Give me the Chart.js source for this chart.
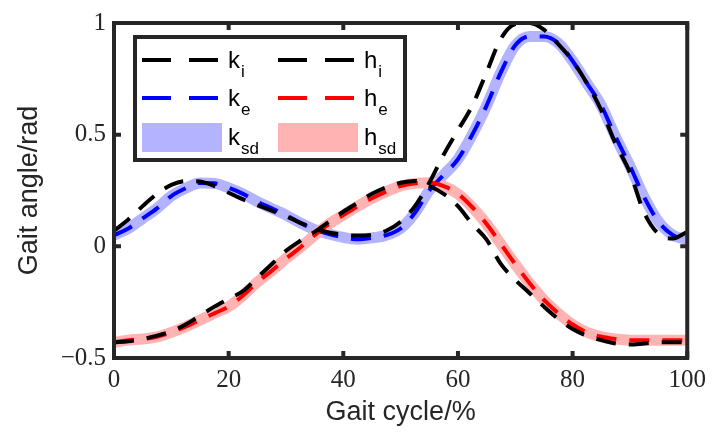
<!DOCTYPE html>
<html>
<head>
<meta charset="utf-8">
<script src="https://cdn.jsdelivr.net/npm/chart.js@4"></script>
<style>
  html, body { margin: 0; padding: 0; background: #fff; }
  #wrap { width: 713px; height: 432px; }
</style>
</head>
<body>
<div id="wrap"><canvas id="gaitChart" width="713" height="432"></canvas></div>
<script>
// gait cycle in %, every 2.5
const gaitCycle = [0,2.5,5,7.5,10,12.5,15,17.5,20,22.5,25,27.5,30,32.5,35,37.5,40,42.5,45,47.5,50,
  52.5,55,57.5,60,62.5,65,67.5,70,72.5,75,77.5,80,82.5,85,87.5,90,92.5,95,97.5,100];

// knee ideal (black) / knee experiment (blue)
const kneeIdeal = [0.07,0.12,0.18,0.235,0.275,0.292,0.29,0.27,0.24,0.21,0.185,0.16,0.135,0.105,0.08,0.062,0.052,0.048,0.052,0.07,0.11,
  0.18,0.285,0.41,0.52,0.63,0.78,0.93,0.995,1.0,0.97,0.905,0.83,0.73,0.61,0.46,0.33,0.15,0.055,0.035,0.065];
const kneeExp = [0.05,0.08,0.125,0.17,0.225,0.26,0.284,0.282,0.262,0.235,0.2,0.17,0.14,0.105,0.075,0.055,0.04,0.032,0.038,0.05,0.08,
  0.15,0.25,0.32,0.39,0.5,0.63,0.78,0.9,0.94,0.94,0.91,0.83,0.73,0.63,0.49,0.36,0.22,0.11,0.05,0.03];

// hip ideal (black) / hip experiment (red)
const hipIdeal = [-0.43,-0.425,-0.415,-0.4,-0.38,-0.35,-0.31,-0.27,-0.235,-0.2,-0.14,-0.08,-0.02,0.025,0.065,0.11,0.155,0.195,0.235,0.265,0.285,
  0.293,0.27,0.235,0.18,0.1,0.03,-0.08,-0.15,-0.21,-0.27,-0.325,-0.37,-0.4,-0.42,-0.435,-0.44,-0.435,-0.43,-0.43,-0.43];
const hipExp = [-0.43,-0.42,-0.415,-0.405,-0.385,-0.36,-0.33,-0.3,-0.27,-0.22,-0.16,-0.11,-0.055,-0.005,0.05,0.1,0.14,0.18,0.215,0.245,0.27,
  0.282,0.285,0.27,0.235,0.175,0.1,0.01,-0.08,-0.165,-0.24,-0.3,-0.35,-0.385,-0.405,-0.415,-0.42,-0.42,-0.42,-0.42,-0.42];

const xTicks = [0, 20, 40, 60, 80, 100];
const yTicks = [-0.5, 0, 0.5, 1];
const legendLabels = [['k', 'i'], ['h', 'i'], ['k', 'e'], ['h', 'e'], ['k', 'sd'], ['h', 'sd']];

const axisColor = '#262626';
const sansFont = "'Liberation Sans', Arial, sans-serif";
const serifFont = "'Liberation Serif', 'Times New Roman', serif";

function pts(vals) {
  return gaitCycle.map((x, i) => ({ x: x, y: vals[i] }));
}

function dashed(label, vals, color, order) {
  return {
    label: label, data: pts(vals), borderColor: color, borderWidth: 4,
    borderDash: [20, 13], borderCapStyle: 'butt', order: order
  };
}

function band(label, vals, color, order) {
  return {
    label: label, data: pts(vals), borderColor: color, borderWidth: 11,
    borderCapStyle: 'butt', borderJoinStyle: 'round', order: order, isBand: true
  };
}

const datasets = [
  dashed('k_i', kneeIdeal, '#000000', 1),
  dashed('h_i', hipIdeal, '#000000', 2),
  dashed('k_e', kneeExp, '#0000ff', 4),
  dashed('h_e', hipExp, '#ff0000', 3),
  band('k_sd', kneeExp, '#b3b3ff', 6),
  band('h_sd', hipExp, '#ffb3b3', 5)
];

// box, inward ticks and the legend, MATLAB style
const boxPlugin = {
  id: 'box',
  afterDraw(chart) {
    const ctx = chart.ctx;
    const a = chart.chartArea;
    const xs = chart.scales.x, ys = chart.scales.y;
    ctx.save();
    ctx.strokeStyle = axisColor;
    ctx.lineWidth = 4;
    ctx.strokeRect(a.left, a.top, a.right - a.left, a.bottom - a.top);
    ctx.beginPath();
    xTicks.forEach(v => {
      const px = xs.getPixelForValue(v);
      ctx.moveTo(px, a.bottom); ctx.lineTo(px, a.bottom - 7);
      ctx.moveTo(px, a.top); ctx.lineTo(px, a.top + 7);
    });
    yTicks.forEach(v => {
      const py = ys.getPixelForValue(v);
      ctx.moveTo(a.left, py); ctx.lineTo(a.left + 7, py);
      ctx.moveTo(a.right, py); ctx.lineTo(a.right - 7, py);
    });
    ctx.stroke();

    // legend
    ctx.fillStyle = '#fff';
    ctx.fillRect(135, 37, 270, 123);
    ctx.strokeStyle = axisColor;
    ctx.lineWidth = 4;
    ctx.strokeRect(135, 37, 270, 123);
    const rowsY = [60, 98, 137];
    const colX = [142, 278];
    chart.data.datasets.forEach((ds, k) => {
      const r = Math.floor(k / 2), c = k % 2;
      const y = rowsY[r], x0 = colX[c];
      if (ds.isBand) {
        ctx.fillStyle = ds.borderColor;
        ctx.fillRect(x0, y - 14, 80, 29);
      } else {
        ctx.strokeStyle = ds.borderColor;
        ctx.lineWidth = 4;
        ctx.setLineDash([29, 18]);
        ctx.beginPath();
        ctx.moveTo(x0, y); ctx.lineTo(x0 + 76, y);
        ctx.stroke();
        ctx.setLineDash([]);
      }
      const lab = legendLabels[k];
      const tx = x0 + 86;
      ctx.fillStyle = '#000';
      ctx.textBaseline = 'alphabetic';
      ctx.textAlign = 'left';
      ctx.font = '24px ' + sansFont;
      ctx.fillText(lab[0], tx, y + 8);
      const w = ctx.measureText(lab[0]).width;
      ctx.font = '17px ' + sansFont;
      ctx.fillText(lab[1], tx + w + 1, y + 17);
    });
    ctx.restore();
  }
};

new Chart(document.getElementById('gaitChart'), {
  type: 'line',
  data: { datasets: datasets },
  options: {
    responsive: false,
    animation: false,
    devicePixelRatio: 1,
    layout: { padding: { left: 0, right: 21, top: 19, bottom: 0 } },
    elements: { point: { radius: 0 }, line: { cubicInterpolationMode: 'monotone' } },
    datasets: { line: { clip: 0 } },
    plugins: { legend: { display: false }, tooltip: { enabled: false } },
    scales: {
      x: {
        type: 'linear', min: 0, max: 100,
        afterBuildTicks: s => { s.ticks = xTicks.map(v => ({ value: v })); },
        afterFit: s => { s.height = 74; },
        grid: { display: false, drawTicks: false }, border: { display: false },
        ticks: { font: { family: serifFont, size: 25 }, color: axisColor, padding: 7 },
        title: { display: true, text: 'Gait cycle/%', color: axisColor,
          font: { family: sansFont, size: 27 }, padding: { top: 0, bottom: 3 } }
      },
      y: {
        type: 'linear', min: -0.5, max: 1,
        afterBuildTicks: s => { s.ticks = yTicks.map(v => ({ value: v })); },
        afterFit: s => { s.width = 114; },
        grid: { display: false, drawTicks: false }, border: { display: false },
        ticks: {
          font: { family: serifFont, size: 25 }, color: axisColor, padding: 8,
          callback: v => (v < 0 ? '\u2212' + Math.abs(v) : String(v))
        },
        title: { display: true, text: 'Gait angle/rad', color: axisColor,
          font: { family: sansFont, size: 27 }, padding: { top: 13, bottom: 0 } }
      }
    }
  },
  plugins: [boxPlugin]
});
</script>
</body>
</html>
